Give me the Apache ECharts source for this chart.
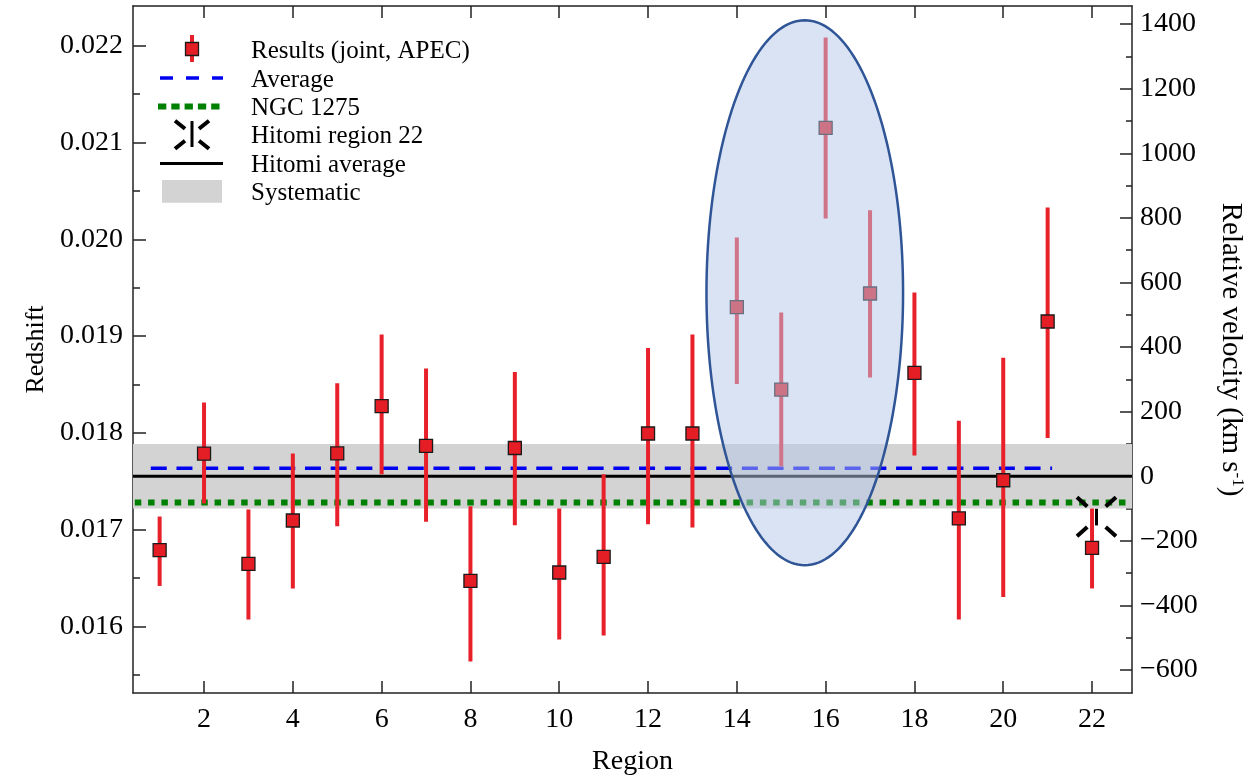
<!DOCTYPE html>
<html>
<head>
<meta charset="utf-8">
<script src="https://cdn.jsdelivr.net/npm/echarts@6/dist/echarts.min.js"></script>
<style>
html,body{margin:0;padding:0;background:#fff;}
#chart{width:1260px;height:775px;}
</style>
</head>
<body>
<div id="chart"></div>
<script>
// ---------------- data ----------------
const regions = [1,2,3,4,5,6,7,8,9,10,11,12,13,14,15,16,17,18,19,20,21,22];
const redshift = [0.016788,0.017785,0.016647,0.017095,0.017788,0.018276,0.017865,0.016471,0.017844,0.016558,0.016719,0.017994,0.017994,0.019299,0.018448,0.021151,0.019440,0.018620,0.017116,0.017511,0.019151,0.016812];
const redshiftLo = [0.016419,0.017271,0.016072,0.016393,0.017036,0.017573,0.017081,0.015638,0.017046,0.015866,0.015907,0.017057,0.017023,0.018506,0.017656,0.020215,0.018572,0.017767,0.016073,0.016306,0.017948,0.016393];
const redshiftHi = [0.017136,0.018314,0.017209,0.017787,0.018513,0.019017,0.018665,0.017243,0.018630,0.017219,0.017573,0.018878,0.019017,0.020019,0.019244,0.022085,0.020300,0.019450,0.018126,0.018775,0.020329,0.017219];
const averageZ = 0.017635;
const averageRange = [0.8, 21.1];
const ngc1275Z = 0.017281;
const hitomiAverageZ = 0.017553;
const hitomiRegion22 = [22.1, 0.017134];
const systematicKms = 100;
const ellipseHighlight = [15.53, 0.019448, 2.214, 0.002815]; // centre x, centre z, half-width, half-height
const xTickMajor = [2,4,6,8,10,12,14,16,18,20,22];
const xTickMinor = [1,3,5,7,9,11,13,15,17,19,21];
const zTickMajor = [0.016,0.017,0.018,0.019,0.020,0.021,0.022];
const zTickMinor = [0.0155,0.0165,0.0175,0.0185,0.0195,0.0205,0.0215];
const vTickMajor = [-600,-400,-200,0,200,400,600,800,1000,1200,1400];
const vTickMinor = [-500,-300,-100,100,300,500,700,900,1100,1300];
const legendLabels = ['Results (joint, APEC)','Average','NGC 1275','Hitomi region 22','Hitomi average','Systematic'];

// ---------------- layout / helpers ----------------
const C_KMS = 299792.458;
const X_MIN = 0.4, X_MAX = 22.9;
const Z_MIN = 0.015313, Z_MAX = 0.02241;
const V_MIN = C_KMS*(Z_MIN-hitomiAverageZ), V_MAX = C_KMS*(Z_MAX-hitomiAverageZ);
const FONT = '"Liberation Serif","Times New Roman",serif';
const AX = '#222';
const RED = '#E8202A';

const chart = echarts.init(document.getElementById('chart'), null, {renderer:'canvas'});

function baseAxis(extra){
  return Object.assign({
    type:'value', splitLine:{show:false}, axisLine:{show:false}, axisLabel:{show:false},
    axisTick:{show:false}
  }, extra);
}
const minus = v => v < 0 ? '\u2212' + Math.abs(v) : String(v);

const xAxes = [
  baseAxis({min:X_MIN,max:X_MAX,position:'bottom',
    axisLine:{show:true,onZero:false,lineStyle:{color:AX,width:1.5}},
    axisTick:{show:true,inside:true,length:12,lineStyle:{color:AX,width:1.5},customValues:xTickMajor},
    axisLabel:{show:true,margin:13,color:'#000',fontFamily:FONT,fontSize:28,customValues:xTickMajor},
    name:'Region',nameLocation:'middle',nameGap:55,nameTextStyle:{color:'#000',fontFamily:FONT,fontSize:28}}),
  baseAxis({min:X_MIN,max:X_MAX,position:'bottom',
    axisTick:{show:true,inside:true,length:6,lineStyle:{color:AX,width:1.5},customValues:xTickMinor}}),
  baseAxis({min:X_MIN,max:X_MAX,position:'top',
    axisLine:{show:true,onZero:false,lineStyle:{color:AX,width:1.5}},
    axisTick:{show:true,inside:true,length:12,lineStyle:{color:AX,width:1.5},customValues:xTickMajor}}),
  baseAxis({min:X_MIN,max:X_MAX,position:'top',
    axisTick:{show:true,inside:true,length:6,lineStyle:{color:AX,width:1.5},customValues:xTickMinor}})
];
const yAxes = [
  baseAxis({min:Z_MIN,max:Z_MAX,position:'left',
    axisLine:{show:true,onZero:false,lineStyle:{color:AX,width:1.5}},
    axisTick:{show:true,inside:true,length:13,lineStyle:{color:AX,width:1.5},customValues:zTickMajor},
    axisLabel:{show:true,margin:10,color:'#000',fontFamily:FONT,fontSize:28,customValues:zTickMajor,
      formatter:v=>v.toFixed(3)},
    name:'Redshift',nameLocation:'middle',nameGap:84,nameRotate:90,
    nameTextStyle:{color:'#000',fontFamily:FONT,fontSize:26}}),
  baseAxis({min:Z_MIN,max:Z_MAX,position:'left',
    axisTick:{show:true,inside:true,length:7,lineStyle:{color:AX,width:1.5},customValues:zTickMinor}}),
  baseAxis({min:V_MIN,max:V_MAX,position:'right',
    axisLine:{show:true,onZero:false,lineStyle:{color:AX,width:1.5}},
    axisTick:{show:true,inside:true,length:12,lineStyle:{color:AX,width:1.5},customValues:vTickMajor},
    axisLabel:{show:true,margin:8,color:'#000',fontFamily:FONT,fontSize:28,customValues:vTickMajor,formatter:minus},
    name:'{a|Relative velocity (km s}{b|-1}{a|)}',nameLocation:'middle',nameGap:83,nameRotate:-90,
    nameTextStyle:{color:'#000',rich:{
      a:{fontFamily:FONT,fontSize:29,color:'#000',lineHeight:31},
      b:{fontFamily:FONT,fontSize:17,color:'#000',verticalAlign:'top',lineHeight:18}}}}),
  baseAxis({min:V_MIN,max:V_MAX,position:'right',
    axisTick:{show:true,inside:true,length:6,lineStyle:{color:AX,width:1.5},customValues:vTickMinor}})
];

const bandLo = hitomiAverageZ - systematicKms/C_KMS;
const bandHi = hitomiAverageZ + systematicKms/C_KMS;

const series = [
  { // systematic band
    type:'custom', z:1, silent:true, clip:true,
    data:[[X_MIN, bandLo, X_MAX, bandHi]],
    renderItem:(p, api)=>{
      const a = api.coord([api.value(0), api.value(3)]);
      const b = api.coord([api.value(2), api.value(1)]);
      return {type:'rect', shape:{x:a[0],y:a[1],width:b[0]-a[0],height:b[1]-a[1]}, style:{fill:'#D3D3D3'}};
    }
  },
  { // Hitomi average
    type:'line', z:2, silent:true, symbol:'none', animation:false,
    data:[[X_MIN, hitomiAverageZ],[X_MAX, hitomiAverageZ]],
    lineStyle:{color:'#000',width:3}
  },
  { // Average (dashed)
    type:'line', z:2, silent:true, symbol:'none', animation:false,
    data:[[averageRange[0], averageZ],[averageRange[1], averageZ]],
    lineStyle:{color:'#0000F0',width:3.5,type:[16,9.7],cap:'butt'}
  },
  { // NGC 1275 (dotted)
    type:'line', z:2, silent:true, symbol:'none', animation:false,
    data:[[X_MIN+0.04, ngc1275Z],[X_MAX, ngc1275Z]],
    lineStyle:{color:'#008000',width:6,type:[6.5,6.8],cap:'butt'}
  },
  { // error bars
    type:'custom', z:3, silent:true,
    data:regions.map((r,i)=>[r, redshiftLo[i], redshiftHi[i]]),
    renderItem:(p, api)=>{
      const a = api.coord([api.value(0), api.value(1)]);
      const b = api.coord([api.value(0), api.value(2)]);
      return {type:'line', shape:{x1:a[0],y1:a[1],x2:b[0],y2:b[1]}, style:{stroke:RED,lineWidth:4}};
    }
  },
  { // results markers
    type:'scatter', z:4, silent:true, symbol:'rect', symbolSize:13,
    data:regions.map((r,i)=>[r, redshift[i]]),
    itemStyle:{color:'#E41E24',borderColor:'#1a1a1a',borderWidth:1.3,opacity:1}
  },
  { // Hitomi region 22 marker
    type:'custom', z:4, silent:true,
    data:[hitomiRegion22],
    renderItem:(p, api)=>{
      const c = api.coord([api.value(0), api.value(1)]);
      const seg = (x1,y1,x2,y2,w)=>({type:'line',shape:{x1:c[0]+x1,y1:c[1]+y1,x2:c[0]+x2,y2:c[1]+y2},style:{stroke:'#000',lineWidth:w}});
      return {type:'group', children:[
        seg(-19.5,-19.5,-9.2,-10.3,4), seg(19.5,-19.5,9.2,-10.3,4),
        seg(-19.5,19.5,-9.2,10.3,4), seg(19.5,19.5,9.2,10.3,4),
        seg(0,-8,0,8.7,3)
      ]};
    }
  },
  { // highlighted ellipse
    type:'custom', z:10, silent:true, clip:false,
    data:[ellipseHighlight],
    renderItem:(p, api)=>{
      const c = api.coord([api.value(0), api.value(1)]);
      const sx = api.size([api.value(2), 0])[0];
      const sy = api.size([0, api.value(3)])[1];
      const pts = [];
      for(let k=0;k<180;k++){const t=k/180*2*Math.PI; pts.push([c[0]+sx*Math.cos(t), c[1]+sy*Math.sin(t)]);}
      return {type:'polygon', shape:{points:pts}, style:{fill:'rgba(181,199,231,0.5)',stroke:'#2F5597',lineWidth:2.5}};
    }
  }
];

// ---------------- legend (drawn as graphics) ----------------
const LX = 192, TX = 251;
const rowY = [50, 79, 107, 135, 164, 192.5];
const legendGraphics = [];
legendGraphics.push({type:'line',shape:{x1:LX,y1:35,x2:LX,y2:62},style:{stroke:RED,lineWidth:4}});
legendGraphics.push({type:'rect',shape:{x:LX-6.5,y:42.5,width:13,height:13},style:{fill:'#E41E24',stroke:'#1a1a1a',lineWidth:1.3}});
legendGraphics.push({type:'line',shape:{x1:160,y1:78,x2:223,y2:78},style:{stroke:'#0000F0',lineWidth:3.5,lineDash:[13,13],lineCap:'butt'}});
legendGraphics.push({type:'line',shape:{x1:158,y1:106.5,x2:221,y2:106.5},style:{stroke:'#008000',lineWidth:6,lineDash:[8.3,5],lineCap:'butt'}});
[[-17,-14,-7,-6],[17,-14,7,-6],[-17,14,-7,6],[17,14,7,6]].forEach(s=>{
  legendGraphics.push({type:'line',shape:{x1:LX+s[0],y1:134.7+s[1],x2:LX+s[2],y2:134.7+s[3]},style:{stroke:'#000',lineWidth:4}});
});
legendGraphics.push({type:'line',shape:{x1:LX,y1:121,x2:LX,y2:147},style:{stroke:'#000',lineWidth:3}});
legendGraphics.push({type:'line',shape:{x1:160,y1:163.5,x2:223,y2:163.5},style:{stroke:'#000',lineWidth:3}});
legendGraphics.push({type:'rect',shape:{x:162,y:180,width:60,height:22.7},style:{fill:'#D3D3D3'}});
legendLabels.forEach((t,i)=>{
  legendGraphics.push({type:'text',x:TX,y:rowY[i]+1,style:{text:t,fill:'#000',font:'25px '+FONT,textAlign:'left',textVerticalAlign:'middle'}});
});

chart.setOption({
  animation:false,
  backgroundColor:'#fff',
  grid:{left:133,right:128,top:6,bottom:82,containLabel:false,outerBoundsMode:'none'},
  xAxis:xAxes,
  yAxis:yAxes,
  series:series,
  graphic:{elements:legendGraphics}
});
</script>
</body>
</html>
